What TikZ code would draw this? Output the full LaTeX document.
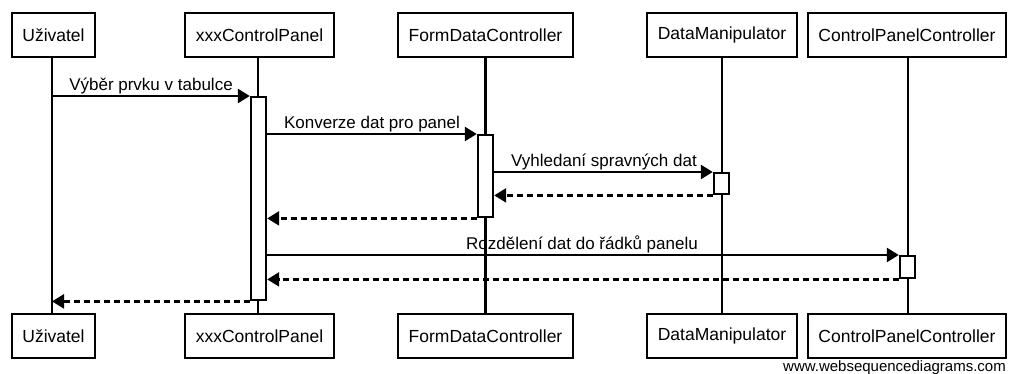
\documentclass[tikz,border=0pt]{standalone}
\usepackage{fontspec}
\setmainfont{Liberation Sans}
\usetikzlibrary{arrows.meta}
\tikzset{
  actor/.style={draw, line width=2.6pt, fill=white, minimum height=44pt, inner sep=0pt,
    font=\fontsize{17.5}{20}\selectfont},
  life/.style={line width=2.4pt},
  act/.style={draw, line width=2.4pt, fill=white, inner sep=0pt, minimum width=15pt},
  msg/.style={line width=2.4pt, -{Triangle[length=12pt,width=14pt]}},
  ret/.style={msg, dash pattern=on 6pt off 4pt},
  lbl/.style={font=\fontsize{17}{19}\selectfont, inner sep=0pt, anchor=base}
}
\begin{document}
\begin{tikzpicture}[x=1pt,y=-1pt]
\useasboundingbox (0,0) rectangle (1013,374);

% participants, top and bottom
\node[actor, minimum width=83pt]  (u1) at (53.5,35) {Uživatel};
\node[actor, minimum width=149pt] (x1) at (259.5,35) {xxxControlPanel};
\node[actor, minimum width=175pt] (f1) at (485.5,35) {FormDataController};
\node[actor, minimum width=150pt] (d1) at (722,35) {DataManipulator};
\node[actor, minimum width=198pt] (c1) at (907,35) {ControlPanelController};

\node[actor, minimum width=83pt]  (u2) at (53.5,336) {Uživatel};
\node[actor, minimum width=149pt] (x2) at (259.5,336) {xxxControlPanel};
\node[actor, minimum width=175pt] (f2) at (485.5,336) {FormDataController};
\node[actor, minimum width=150pt] (d2) at (722,336) {DataManipulator};
\node[actor, minimum width=198pt] (c2) at (907,336) {ControlPanelController};

% lifelines
\draw[life] (u1.south) ++(-1.5,0) coordinate (ut) -- (ut |- u2.north);
\draw[life] (x1.south) ++(-1.5,0) coordinate (xt) -- (xt |- x2.north);
\draw[life] (f1.south) coordinate (ft) -- (ft |- f2.north);
\draw[life] (d1.south) coordinate (dt) -- (dt |- d2.north);
\draw[life] (c1.south) ++(1,0) coordinate (ct) -- (ct |- c2.north);

% activation bars
\node[act, minimum height=203pt, anchor=north] (ax) at (258.5,96) {};
\node[act, minimum height=82pt,  anchor=north] (af) at (485.5,134) {};
\node[act, minimum height=21pt,  anchor=north] (ad) at (721.5,172) {};
\node[act, minimum height=22pt,  anchor=north] (ac) at (907.5,255) {};

% messages
\coordinate (m1) at (ut |- ax.north);
\draw[msg] (m1) -- (ax.north west);
\node[lbl] at (151,91) {Výběr prvku v tabulce};

\draw[msg] (ax.east |- af.north) -- (af.north west);
\node[lbl] at (372,129) {Konverze dat pro panel};

\draw[msg] (af.east |- ad.north) -- (ad.north west);
\node[lbl] at (604,167) {Vyhledaní spravných dat};

\draw[ret] (ad.south west) -- (af.east |- ad.south);
\draw[ret] (af.south west) -- (ax.east |- af.south);

\draw[msg] (ax.east |- ac.north) -- (ac.north west);
\node[lbl] at (582,250) {Rozdělení dat do řádků panelu};

\draw[ret] (ac.south west) -- (ax.east |- ac.south);
\coordinate (m8) at (ut |- ax.south);
\draw[ret] (ax.south west) -- (m8);

% footer
\node[font=\fontsize{15}{17}\selectfont, inner sep=0pt, anchor=base east] (wm) at (1006,371) {www.websequencediagrams.com};
\end{tikzpicture}
\end{document}
